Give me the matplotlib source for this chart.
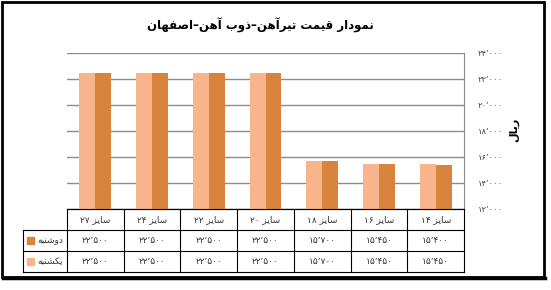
import re
import matplotlib
matplotlib.use("Agg")
import matplotlib.pyplot as plt
from matplotlib.patches import Rectangle
from matplotlib.lines import Line2D

# data (left to right as drawn)
sizes = ["۲۷", "۲۴", "۲۲", "۲۰", "۱۸", "۱۶", "۱۴"]
monday = [22500, 22500, 22500, 22500, 15700, 15450, 15400]   # دوشنبه
sunday = [22500, 22500, 22500, 22500, 15700, 15450, 15450]   # یکشنبه
yticks = [12000, 14000, 16000, 18000, 20000, 22000, 24000]

title = "نمودار قیمت تیرآهن–ذوب آهن–اصفهان"
ylabel = "ریال"
name_mon = "دوشنبه"
name_sun = "یکشنبه"

c_dark = "#D9843D"
c_light = "#F8B58C"

# --- minimal persian shaping (matplotlib has no bidi / joining) ---
FORMS = {
    "ا": ("\uFE8D", "\uFE8E", None, None),
    "آ": ("\uFE81", "\uFE82", None, None),
    "ب": ("\uFE8F", "\uFE90", "\uFE91", "\uFE92"),
    "ت": ("\uFE95", "\uFE96", "\uFE97", "\uFE98"),
    "د": ("\uFEA9", "\uFEAA", None, None),
    "ذ": ("\uFEAB", "\uFEAC", None, None),
    "ر": ("\uFEAD", "\uFEAE", None, None),
    "ز": ("\uFEAF", "\uFEB0", None, None),
    "س": ("\uFEB1", "\uFEB2", "\uFEB3", "\uFEB4"),
    "ش": ("\uFEB5", "\uFEB6", "\uFEB7", "\uFEB8"),
    "ص": ("\uFEB9", "\uFEBA", "\uFEBB", "\uFEBC"),
    "ف": ("\uFED1", "\uFED2", "\uFED3", "\uFED4"),
    "ق": ("\uFED5", "\uFED6", "\uFED7", "\uFED8"),
    "ل": ("\uFEDD", "\uFEDE", "\uFEDF", "\uFEE0"),
    "م": ("\uFEE1", "\uFEE2", "\uFEE3", "\uFEE4"),
    "ن": ("\uFEE5", "\uFEE6", "\uFEE7", "\uFEE8"),
    "ه": ("\uFEE9", "\uFEEA", "\uFEEB", "\uFEEC"),
    "و": ("\uFEED", "\uFEEE", None, None),
    "ی": ("\uFBFC", "\uFBFD", "\uFBFE", "\uFBFF"),
    "ک": ("\uFB8E", "\uFB8F", "\uFB90", "\uFB91"),
}


def shape(s):
    out = []
    for i, c in enumerate(s):
        if c not in FORMS:
            out.append(c)
            continue
        prev = s[i - 1] if i > 0 else None
        nxt = s[i + 1] if i + 1 < len(s) else None
        jp = prev in FORMS and FORMS[prev][2] is not None
        jn = FORMS[c][2] is not None and nxt in FORMS
        iso, fin, ini, med = FORMS[c]
        out.append(med if jp and jn else fin if jp else ini if jn else iso)
    return "".join(out)


def rtl(s):
    toks = re.findall(r"[۰-۹٬]+|[^۰-۹٬]+", s)
    toks = [t if re.match(r"[۰-۹]", t) else shape(t)[::-1] for t in toks]
    return "".join(toks[::-1])


def fa_num(v):
    return f"{v:,}".translate(str.maketrans("0123456789,", "۰۱۲۳۴۵۶۷۸۹٬"))


W, H = 551, 290
fig = plt.figure(figsize=(W / 100, H / 100), dpi=100)
plt.rcParams["font.family"] = ["DejaVu Sans"]


def fx(x):
    return x / W


def fy(y):
    return 1 - y / H


x0, x1, ytop, ybot = 67, 464, 53, 209
ax = fig.add_axes([fx(x0), fy(ybot), (x1 - x0) / W, (ybot - ytop) / H])

n = len(sizes)
bw = 0.282
pos = list(range(n))
ax.bar([p - bw / 2 for p in pos], sunday, width=bw, color=c_light, zorder=3)
ax.bar([p + bw / 2 for p in pos], monday, width=bw, color=c_dark, zorder=3)

ax.set_xlim(-0.5, n - 0.5)
ax.set_ylim(yticks[0], yticks[-1])
ax.set_yticks(yticks)
ax.set_yticklabels([fa_num(v) for v in yticks], fontsize=6, color="#404040")
ax.yaxis.tick_right()
ax.tick_params(axis="y", length=0, pad=10)
ax.set_xticks([])
ax.grid(axis="y", color="#8C8C8C", lw=1, zorder=0)
for side in ["left", "top"]:
    ax.spines[side].set_visible(False)
ax.spines["right"].set_color("#8C8C8C")
ax.spines["bottom"].set_color("black")

# title and axis name
fig.text(fx(260), fy(25), rtl(title), ha="center", va="center",
         fontsize=8.5, fontweight="bold")
fig.text(fx(514), fy(130), rtl(ylabel), ha="center", va="center",
         rotation=90, fontsize=8, fontweight="bold")

# data table
lx = 23
rows = [209, 230, 251, 272]
cw = (x1 - x0) / n
lk = dict(color="black", lw=0.8)
for y in rows:
    xs = x0 if y == rows[0] else lx
    fig.add_artist(Line2D([fx(xs), fx(x1)], [fy(y), fy(y)], **lk))
fig.add_artist(Line2D([fx(lx), fx(lx)], [fy(rows[1]), fy(rows[3])], **lk))
for i in range(n + 1):
    x = x0 + i * cw
    fig.add_artist(Line2D([fx(x), fx(x)], [fy(rows[0]), fy(rows[3])], **lk))

for i in range(n):
    cx = x0 + (i + 0.5) * cw
    fig.text(fx(cx), fy(219.5), rtl("سایز " + sizes[i]), ha="center",
             va="center", fontsize=6.5, color="#333333")
    fig.text(fx(cx), fy(240.5), fa_num(monday[i]), ha="center",
             va="center", fontsize=6.5, color="#333333")
    fig.text(fx(cx), fy(261.5), fa_num(sunday[i]), ha="center",
             va="center", fontsize=6.5, color="#333333")

for yc, name, col in [(240.5, name_mon, c_dark), (261.5, name_sun, c_light)]:
    fig.add_artist(Rectangle((fx(27), fy(yc + 3.5)), 7 / W, 7 / H,
                             color=col, transform=fig.transFigure))
    fig.text(fx(37), fy(yc), rtl(name), ha="left", va="center",
             fontsize=6.5, color="#333333")

# outer frame
fig.add_artist(Rectangle((fx(2), fy(277)), 542 / W, 275 / H, fill=False,
                         ec="black", lw=2, transform=fig.transFigure))
fig.add_artist(Line2D([fx(3), fx(545)], [fy(278), fy(278)], color="black",
                      lw=2.5))

fig.savefig("out.png", dpi=100)
